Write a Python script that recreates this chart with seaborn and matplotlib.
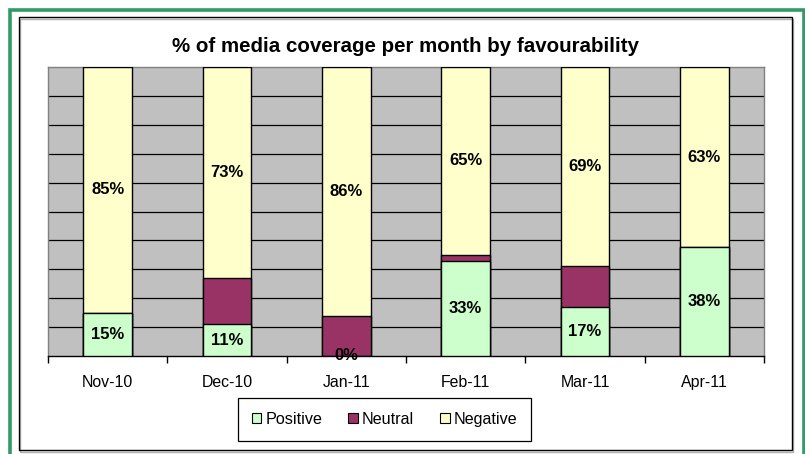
import numpy as np
import pandas as pd
import matplotlib
matplotlib.use("Agg")
import matplotlib.pyplot as plt
from matplotlib.patches import Rectangle, Patch
import seaborn as sns

months = ["Nov-10", "Dec-10", "Jan-11", "Feb-11", "Mar-11", "Apr-11"]
positive = [15, 11, 0, 33, 17, 38]
neutral = [0, 16, 14, 2, 14, 0]
negative = [85, 73, 86, 65, 69, 63]

c_pos = "#CCFFCC"
c_neu = "#993366"
c_neg = "#FFFFCC"

sns.set_theme(style="white")
plt.rcParams["font.family"] = ["Liberation Sans", "DejaVu Sans"]
plt.rcParams["text.color"] = "black"

pos = np.array(positive, float)
neu = np.array(neutral, float)
neg = np.array(negative, float)
tot = pos + neu + neg
p_pos = pos / tot * 100
p_neu = neu / tot * 100
p_neg = neg / tot * 100

df = pd.DataFrame({
    "month": months,
    "c3": p_pos + p_neu + p_neg,
    "c2": p_pos + p_neu,
    "c1": p_pos,
})

W, H = 805, 454
fig = plt.figure(figsize=(W / 100, H / 100), dpi=100)
fig.patch.set_facecolor("white")

# borders
fig.patches.append(Rectangle((10 / W, 1 - 480 / H), 793.5 / W, 470.5 / H,
                             transform=fig.transFigure, fill=False,
                             edgecolor="#339966", linewidth=2.6, clip_on=False))
# subtle shadow of inner frame
fig.patches.append(Rectangle((20 / W, 1 - 451.5 / H), 773 / W, 433 / H,
                             transform=fig.transFigure, fill=False,
                             edgecolor="#B0B0B0", linewidth=1.0))
fig.patches.append(Rectangle((18.5 / W, 1 - 450 / H), 773 / W, 433 / H,
                             transform=fig.transFigure, fill=False,
                             edgecolor="black", linewidth=1.0))

ax = fig.add_axes([48 / W, 1 - 356 / H, 716 / W, 289 / H])
ax.set_facecolor("#C0C0C0")

for col, color in [("c3", c_neg), ("c2", c_neu), ("c1", c_pos)]:
    sns.barplot(data=df, x="month", y=col, ax=ax, color=color, width=0.41,
                edgecolor="black", linewidth=1.0, saturation=1, zorder=3)

ax.set_ylim(0, 100)
ax.set_xlim(-0.5, len(months) - 0.5)
ax.set_yticks([])
for g in range(10, 100, 10):
    ax.axhline(g, color="black", linewidth=0.9, zorder=1)

ax.set_xlabel("")
ax.set_ylabel("")
ax.tick_params(axis="x", which="major", length=0, pad=14, labelsize=11.4,
               labelcolor="black")
ax.set_xticks(np.arange(-0.5, len(months), 1.0), minor=True)
ax.tick_params(axis="x", which="minor", length=5, width=1, color="black",
               direction="out", bottom=True)
for s in ["left", "top", "right"]:
    ax.spines[s].set_color("#808080")
    ax.spines[s].set_linewidth(1.0)
ax.spines["bottom"].set_color("black")
ax.spines["bottom"].set_linewidth(1.0)

# data labels
lab_fs = 12
for i in range(len(months)):
    if pos[i] > 0:
        ax.text(i, p_pos[i] / 2, f"{int(pos[i])}%", ha="center", va="center",
                fontsize=lab_fs, fontweight="bold", color="black", zorder=5)
    else:
        ax.text(i, 0, f"{int(pos[i])}%", ha="center", va="center",
                fontsize=lab_fs, fontweight="bold", color="black", zorder=5)
    ax.text(i, p_pos[i] + p_neu[i] + p_neg[i] / 2, f"{int(neg[i])}%",
            ha="center", va="center", fontsize=lab_fs, fontweight="bold",
            color="black", zorder=5)

fig.text(405 / W, 1 - 46 / H, "% of media coverage per month by favourability",
         ha="center", va="center", fontsize=14.8, fontweight="bold",
         color="black")

handles = [Patch(facecolor=c, edgecolor="black", linewidth=0.8) for c in (c_pos, c_neu, c_neg)]
leg = fig.legend(handles, ["Positive", "Neutral", "Negative"], loc="center",
                 bbox_to_anchor=(384.5 / W, 1 - 419.5 / H), ncol=3,
                 fontsize=11.6, frameon=True, fancybox=False, framealpha=1,
                 edgecolor="black", handlelength=0.6, handleheight=0.6,
                 handletextpad=0.25, columnspacing=1.6, borderpad=0.85)
leg.get_frame().set_linewidth(0.9)
for t in leg.get_texts():
    t.set_color("black")

fig.savefig("out.png", dpi=100)
